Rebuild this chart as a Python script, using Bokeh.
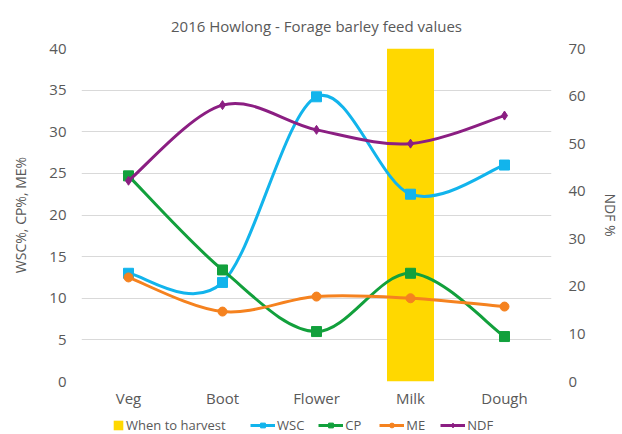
from bokeh.plotting import figure
from bokeh.layouts import column
from bokeh.models import Range1d, LinearAxis, FixedTicker, Legend, LegendItem, ColumnDataSource
from bokeh.embed import file_html
from bokeh.resources import INLINE

categories = ["Veg", "Boot", "Flower", "Milk", "Dough"]
wsc = [13.0, 11.9, 34.2, 22.5, 26.0]
cp = [24.7, 13.4, 6.0, 13.0, 5.4]
me = [12.5, 8.4, 10.2, 10.0, 9.0]
ndf = [42.2, 58.1, 52.9, 50.0, 55.9]
harvest_stage = "Milk"
left_max = 40
right_max = 70

FONT = "Open Sans"
TXT = "#595959"
GRID = "#D9D9D9"
YELLOW = "#FFD800"
NAN = float("nan")

xs = list(range(len(categories)))

p = figure(width=622, height=416, output_backend="svg", toolbar_location=None,
           x_range=Range1d(-0.5, len(categories) - 0.5), y_range=Range1d(0, left_max),
           min_border_left=81, min_border_right=67, min_border_top=48, min_border_bottom=35,
           title="2016 Howlong - Forage barley feed values")
p.outline_line_color = None
p.background_fill_color = "white"
p.title.align = "center"
p.title.vertical_align = "top"
p.title.text_font = FONT
p.title.text_font_size = "15px"
p.title.text_font_style = "normal"
p.title.text_color = TXT
p.title.standoff = 22

p.extra_y_ranges = {"ndf": Range1d(0, right_max)}

# axes
p.xaxis.ticker = FixedTicker(ticks=xs)
p.xaxis.major_label_overrides = {i: c for i, c in enumerate(categories)}
p.yaxis.ticker = FixedTicker(ticks=list(range(0, left_max + 1, 5)))
p.yaxis.axis_label = "WSC%, CP%, ME%"
right = LinearAxis(y_range_name="ndf", ticker=FixedTicker(ticks=list(range(0, right_max + 1, 10))),
                   axis_label="NDF %")
p.add_layout(right, "right")

for ax in [p.xaxis[0], p.yaxis[0], right]:
    ax.axis_line_color = None
    ax.major_tick_line_color = None
    ax.minor_tick_line_color = None
    ax.major_tick_out = 0
    ax.major_tick_in = 0
    ax.minor_tick_out = 0
    ax.minor_tick_in = 0
    ax.major_label_text_font = FONT
    ax.major_label_text_color = TXT
    ax.major_label_text_font_size = "15px"
    ax.axis_label_text_font = FONT
    ax.axis_label_text_color = TXT
    ax.axis_label_text_font_size = "14px"
    ax.axis_label_text_font_style = "normal"
p.xaxis.major_label_standoff = 6
p.yaxis[0].major_label_standoff = 15
p.yaxis[0].axis_label_standoff = 16
right.major_label_standoff = 17
right.axis_label_standoff = 12

p.xgrid.grid_line_color = None
p.ygrid.grid_line_color = GRID
p.ygrid.grid_line_width = 1

# harvest bar
hx = categories.index(harvest_stage)
p.vbar(x=[hx], top=[left_max], bottom=0, width=0.5, fill_color=YELLOW, line_color=None)


def smooth(ys):
    n = len(ys)
    X = xs
    Y = ys
    d = dict(x0=[], y0=[], x1=[], y1=[], cx0=[], cy0=[], cx1=[], cy1=[])
    for i in range(n - 1):
        im1 = max(i - 1, 0)
        ip2 = min(i + 2, n - 1)
        d["x0"].append(X[i]); d["y0"].append(Y[i])
        d["x1"].append(X[i + 1]); d["y1"].append(Y[i + 1])
        d["cx0"].append(X[i] + (X[i + 1] - X[im1]) / 6)
        d["cy0"].append(Y[i] + (Y[i + 1] - Y[im1]) / 6)
        d["cx1"].append(X[i + 1] - (X[ip2] - X[i]) / 6)
        d["cy1"].append(Y[i + 1] - (Y[ip2] - Y[i]) / 6)
    return ColumnDataSource(d)


series = [
    ("WSC", wsc, "#12B4EC", "square", 10, "default"),
    ("CP", cp, "#12A03C", "square", 10, "default"),
    ("ME", me, "#F5821F", "circle", 9, "default"),
    ("NDF", ndf, "#8B1E82", "diamond", 9, "ndf"),
]

for name, vals, color, marker, size, rng in series:
    p.bezier(x0="x0", y0="y0", x1="x1", y1="y1", cx0="cx0", cy0="cy0", cx1="cx1", cy1="cy1",
             source=smooth(vals), line_color=color, line_width=3, y_range_name=rng)
    p.scatter(xs, vals, marker=marker, size=size, fill_color=color, line_color=color,
              y_range_name=rng)

# legend strip (separate small figure so the legend is not clipped by the chart frame)
lg = figure(width=622, height=18, output_backend="svg", toolbar_location=None,
            x_range=Range1d(0, 1), y_range=Range1d(0, 1),
            min_border_left=0, min_border_right=0, min_border_top=0, min_border_bottom=0)
lg.axis.visible = False
lg.grid.visible = False
lg.outline_line_color = None

# legend-only proxies (NaN positions: nothing is drawn in the strip itself)
hb = lg.vbar(x=[NAN], top=[NAN], width=1, fill_color=YELLOW, line_color=None)
items = []
for name, vals, color, marker, size, rng in series:
    lr = lg.line(x=[NAN], y=[NAN], line_color=color, line_width=3)
    sr = lg.scatter(x=[NAN], y=[NAN], marker=marker, size=size, fill_color=color, line_color=color)
    items.append(LegendItem(label=name, renderers=[lr, sr]))

common = dict(orientation="horizontal", label_text_font=FONT, label_text_font_size="13px",
              label_text_color=TXT, glyph_height=12, label_height=14, label_standoff=2,
              border_line_color=None, background_fill_alpha=0, padding=0, margin=0)
legend1 = Legend(items=[LegendItem(label="When to harvest", renderers=[hb])],
                 location=(31, 0), glyph_width=12, **common)
legend2 = Legend(items=items, location=(169, 0), glyph_width=25, spacing=14, **common)
lg.add_layout(legend1, "center")
lg.add_layout(legend2, "center")

layout = column(p, lg, spacing=0)
open("out.html", "w").write(file_html(layout, INLINE))
